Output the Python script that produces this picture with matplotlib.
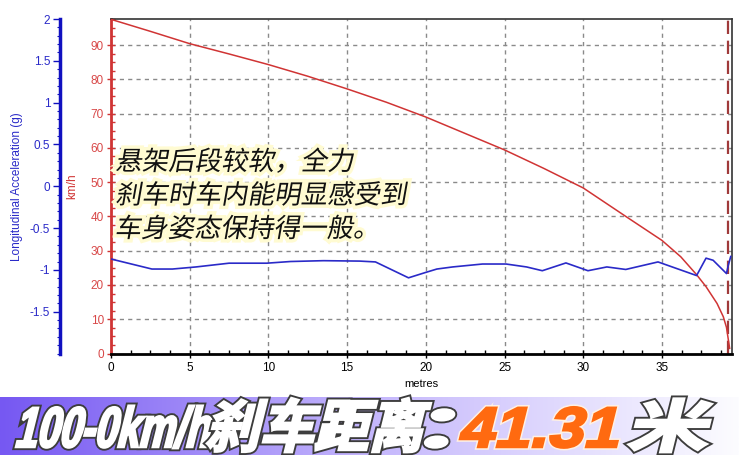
import numpy as np
import matplotlib
matplotlib.use('Agg')
import matplotlib.pyplot as plt
import matplotlib.transforms as mtransforms
import matplotlib.patheffects as pe
from matplotlib.textpath import TextPath
from matplotlib.patches import PathPatch
from matplotlib.font_manager import FontProperties
from matplotlib.ticker import MultipleLocator, FixedLocator

# speed trace (km/h) vs distance (m)
speed_x = [0, 2.5, 5, 7.5, 10, 12.5, 15, 17.5, 20, 22.5, 25, 27.5, 30, 32.8,
           35, 36.2, 37.2, 37.8, 38.5, 38.9, 39.1, 39.3]
speed_v = [97.5, 94.0, 90.4, 87.4, 84.3, 80.9, 77.2, 73.3, 69.0, 64.2, 59.4, 54.0,
           48.3, 39.7, 33.0, 28.2, 23.0, 19.5, 14.6, 10.7, 7.6, 1.5]

# longitudinal acceleration (g) vs distance (m)
acc_x = [0, 2.6, 3.9, 5.4, 7.5, 9.9, 11.4, 13.5, 15.8, 16.8, 18.9, 20.0, 20.7, 21.7,
         23.6, 25.1, 26.4, 27.4, 28.9, 30.3, 31.5, 32.7, 34.75, 37.2, 37.8, 38.25,
         39.1, 39.2, 39.37]
acc_g = [-0.87, -0.99, -0.99, -0.965, -0.92, -0.92, -0.90, -0.89, -0.895, -0.905,
         -1.095, -1.03, -0.99, -0.965, -0.93, -0.93, -0.965, -1.01, -0.917, -1.01,
         -0.965, -0.995, -0.905, -1.068, -0.86, -0.885, -1.044, -0.957, -0.84]

stop_x = 39.2
x_ticks = [0, 5, 10, 15, 20, 25, 30, 35]
v_ticks = [0, 10, 20, 30, 40, 50, 60, 70, 80, 90]
g_ticks = [2, 1.5, 1, 0.5, 0, -0.5, -1, -1.5]
g_labels = ['2', '1.5', '1', '0.5', '0', '-0.5', '-1', '-1.5']

note_lines = ['悬架后段较软，全力', '刹车时车内能明显感受到', '车身姿态保持得一般。']
banner_parts = ['100-0km/h', '刹车距离', '：', '41.31', '米']
banner_colors = ['white', 'white', 'white', '#ff6a10', 'white']

W, H = 739, 455
RED = '#d03434'
BLUE = '#2a2ac8'

plt.rcParams['font.family'] = ['Liberation Sans', 'DejaVu Sans']

fig = plt.figure(figsize=(W / 100, H / 100), dpi=100)
fig.patch.set_facecolor('white')

left, right, top, bottom = 111, 732, 19, 353.5
ax = fig.add_axes([left / W, (H - bottom) / H, (right - left) / W, (bottom - top) / H])
ax.plot(speed_x, speed_v, color=RED, lw=1.1, zorder=3)
ax.axvline(stop_x, color='#a03a3a', lw=1.6, dashes=(6, 3), zorder=2)
ax.set_xlim(0, 39.45)
ax.set_ylim(0, 97.6)
ax.set_xticks(x_ticks)
ax.xaxis.set_minor_locator(MultipleLocator(1.25))
ax.set_yticks(v_ticks)
ax.yaxis.set_minor_locator(MultipleLocator(2.5))
ax.grid(True, which='major', color='#8a8a8a', lw=1.0, dashes=(3, 3))
ax.tick_params(axis='x', which='major', direction='inout', length=6, width=1,
               labelsize=8.5, pad=3)
ax.tick_params(axis='x', which='minor', direction='in', length=3, width=1)
ax.tick_params(axis='y', which='major', direction='inout', length=6, width=1,
               color=RED, labelcolor='#d84848', labelsize=8.5, pad=2)
ax.tick_params(axis='y', which='minor', direction='in', length=3, width=1, color=RED)
for s in ['top', 'right']:
    ax.spines[s].set_color('#333333')
    ax.spines[s].set_linewidth(1.2)
ax.spines['bottom'].set_linewidth(2)
ax.spines['bottom'].set_color('black')
ax.spines['left'].set_color(RED)
ax.spines['left'].set_linewidth(2)
ax.set_xlabel('metres', fontsize=8, labelpad=4)
ax.set_ylabel('km/h', color=RED, fontsize=8.5)
ax.yaxis.set_label_coords(-0.053, 0.5)

ax2 = ax.twinx()
ax2.plot(acc_x, acc_g, color=BLUE, lw=1.2, zorder=3)
ax2.set_ylim(-2, 2)
ax2.yaxis.set_ticks_position('left')
ax2.yaxis.set_label_position('left')
ax2.yaxis.set_major_locator(FixedLocator(g_ticks))
ax2.set_yticklabels(g_labels)
ax2.yaxis.set_minor_locator(MultipleLocator(0.1))
for s in ['top', 'right', 'bottom']:
    ax2.spines[s].set_visible(False)
ax2.spines['left'].set_position(('outward', (left - 60) * 0.72))
ax2.spines['left'].set_color('#1010c0')
ax2.spines['left'].set_linewidth(2.5)
ax2.tick_params(axis='y', which='major', direction='out', length=5, width=1,
                color='#1010c0', labelcolor=BLUE, labelsize=8.5, pad=2)
ax2.tick_params(axis='y', which='minor', direction='out', length=2, width=0.8,
                color='#1010c0')
ax2.set_ylabel('Longitudinal Acceleration (g)', color=BLUE, fontsize=8.5)
ax2.yaxis.set_label_coords(-0.142, 0.5)

px = mtransforms.Affine2D().scale(1 / 100) + fig.dpi_scale_trans


def slanted_text(s, x, y, size, prop, color, effects, skew=12, width=None):
    # draw text as a skewed path, (x, y) = baseline start in image pixels
    tp = TextPath((0, 0), s, size=size, prop=prop)
    ext = tp.get_extents()
    sx = 1.0 if width is None else width / ext.width
    tr = (mtransforms.Affine2D().translate(-ext.x0, 0).scale(sx, 1)
          .skew_deg(skew, 0).translate(x, H - y))
    patch = PathPatch(tr.transform_path(tp), fc=color, ec='none', transform=px,
                      zorder=10)
    patch.set_path_effects(effects)
    fig.add_artist(patch)


# annotation
note_prop = FontProperties(family=['Noto Sans CJK SC', 'DejaVu Sans'])
glow = [pe.Stroke(linewidth=5, foreground='#fffbd2'), pe.Normal()]
for i, line in enumerate(note_lines):
    slanted_text(line, 116, 170 + i * 33.5, 26.5, note_prop, '#111111', glow, skew=10)

# banner
bax = fig.add_axes([0, 0, 1, 58 / H])
grad = np.linspace(0, 1, 256)
c0 = np.array([118, 88, 242]) / 255
c1 = np.array([196, 182, 252]) / 255
c2 = np.array([252, 252, 255]) / 255
cols = np.where(grad[:, None] < 0.5,
                c0 + (c1 - c0) * (grad[:, None] / 0.5),
                c1 + (c2 - c1) * ((grad[:, None] - 0.5) / 0.5))
bax.imshow(cols[None, :, :], aspect='auto', extent=(0, 1, 0, 1))
bax.set_axis_off()

ban_prop = FontProperties(family=['Liberation Sans', 'Noto Sans CJK SC'], weight='bold')
outline = [pe.Stroke(linewidth=4.5, foreground='#3c3c3c'),
           pe.Stroke(linewidth=1.8, foreground='white'), pe.Normal()]
outline_o = [pe.Stroke(linewidth=4, foreground='#fff1e4'),
             pe.Stroke(linewidth=1.8, foreground='#ff6a10'), pe.Normal()]
part_x = [16, 206, 424, 458, 628]
part_w = [190, 214, 22, 158, 78]
for s, c, xx, ww in zip(banner_parts, banner_colors, part_x, part_w):
    fx = outline_o if c != 'white' else outline
    slanted_text(s, xx, 447, 57, ban_prop, c, fx, skew=14, width=ww)

fig.savefig('out.png', dpi=100)
